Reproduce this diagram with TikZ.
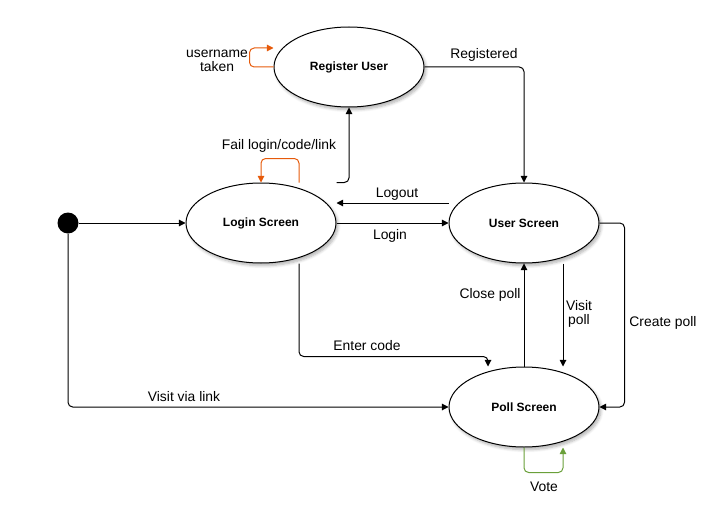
\documentclass[tikz,border=0pt]{standalone}
\usepackage{fontspec}
\setmainfont{Liberation Sans}
\usetikzlibrary{arrows.meta,shapes.geometric,shadows.blur}
\definecolor{failorange}{RGB}{230,90,10}
\definecolor{votegreen}{RGB}{106,160,58}
\begin{document}
\begin{tikzpicture}[x = 0.75pt,y = -0.75pt,
  state/.style = {ellipse,draw,fill = white,line width = 0.75pt,minimum width = 112.5pt,minimum height = 60pt,inner sep = 0pt,
    font = \fontsize{9}{11}\selectfont\bfseries,blur shadow = {shadow xshift = 1.5pt,shadow yshift = -2pt,shadow opacity = 30,shadow blur steps = 6}},
  flow/.style = {-{Triangle[length = 5pt,width = 5pt]},line width = 0.75pt,rounded corners = 3.5pt},
  lbl/.style = {font = \fontsize{10.4}{10.5}\selectfont,align = center,inner sep = 0pt}]
\useasboundingbox (0,0) rectangle (713,510);
\node[circle,fill = black,minimum size = 15.75pt,inner sep = 0pt] (start) at (68,223) {};
\node[state] (login) at (261,223) {Login Screen};\node[state] (reg) at (349,67) {Register User};
\node[state] (user) at (524,223) {User Screen};\node[state] (poll) at (524,407) {Poll Screen};
%
\draw[flow] (start) -- (login.west);\draw[flow] (start) |- (poll.west);
\draw[flow] (login.east) -- (user.west);\draw[flow] ([yshift = 15pt]user.west) -- ([yshift = 15pt]login.east);
\draw[flow] (login.north -| login.east) -| (reg.south);\draw[flow] (reg.east) -| (user.north);
\draw[flow] ([xshift = 28.5pt]login.south) |- ([xshift = -27pt,yshift = 7.5pt]poll.north) -- ([xshift = -27pt]poll.north);
\draw[flow] (poll.north) -- (user.south);\draw[flow] ([xshift = 29.25pt]user.south) -- ([xshift = 29.25pt]poll.north);
\draw[flow] (user.east) -- ++(25,0) |- (poll.east);
%
\draw[flow,failorange] ([xshift = 28.5pt]login.north) -- ++(0,-24) -| (login.north);
\draw[flow,failorange] (reg.west) -- ++(-24,0) |- ([yshift = 14.25pt]reg.west);
\draw[flow,votegreen] (poll.south) -- ++(0,25) -| ([xshift = 29.25pt]poll.south);
%
\node[lbl] (lUser) at (217,60.5) {username\\taken};\node[lbl] (lReg) at (484,55) {Registered};
\node[lbl] (lFail) at (279,146) {Fail login/code/link};\node[lbl] (lOut) at (397,194) {Logout};
\node[lbl] (lIn) at (390,236) {Login};\node[lbl] (lClose) at (490,295) {Close poll};
\node[lbl] (lVisit) at (579,314) {Visit\\poll};\node[lbl] (lCreate) at (663,323) {Create poll};
\node[lbl] (lCode) at (367,346) {Enter code};\node[lbl] (lLink) at (184,397) {Visit via link};
\node[lbl] (lVote) at (544,487) {Vote};
\end{tikzpicture}
\end{document}
